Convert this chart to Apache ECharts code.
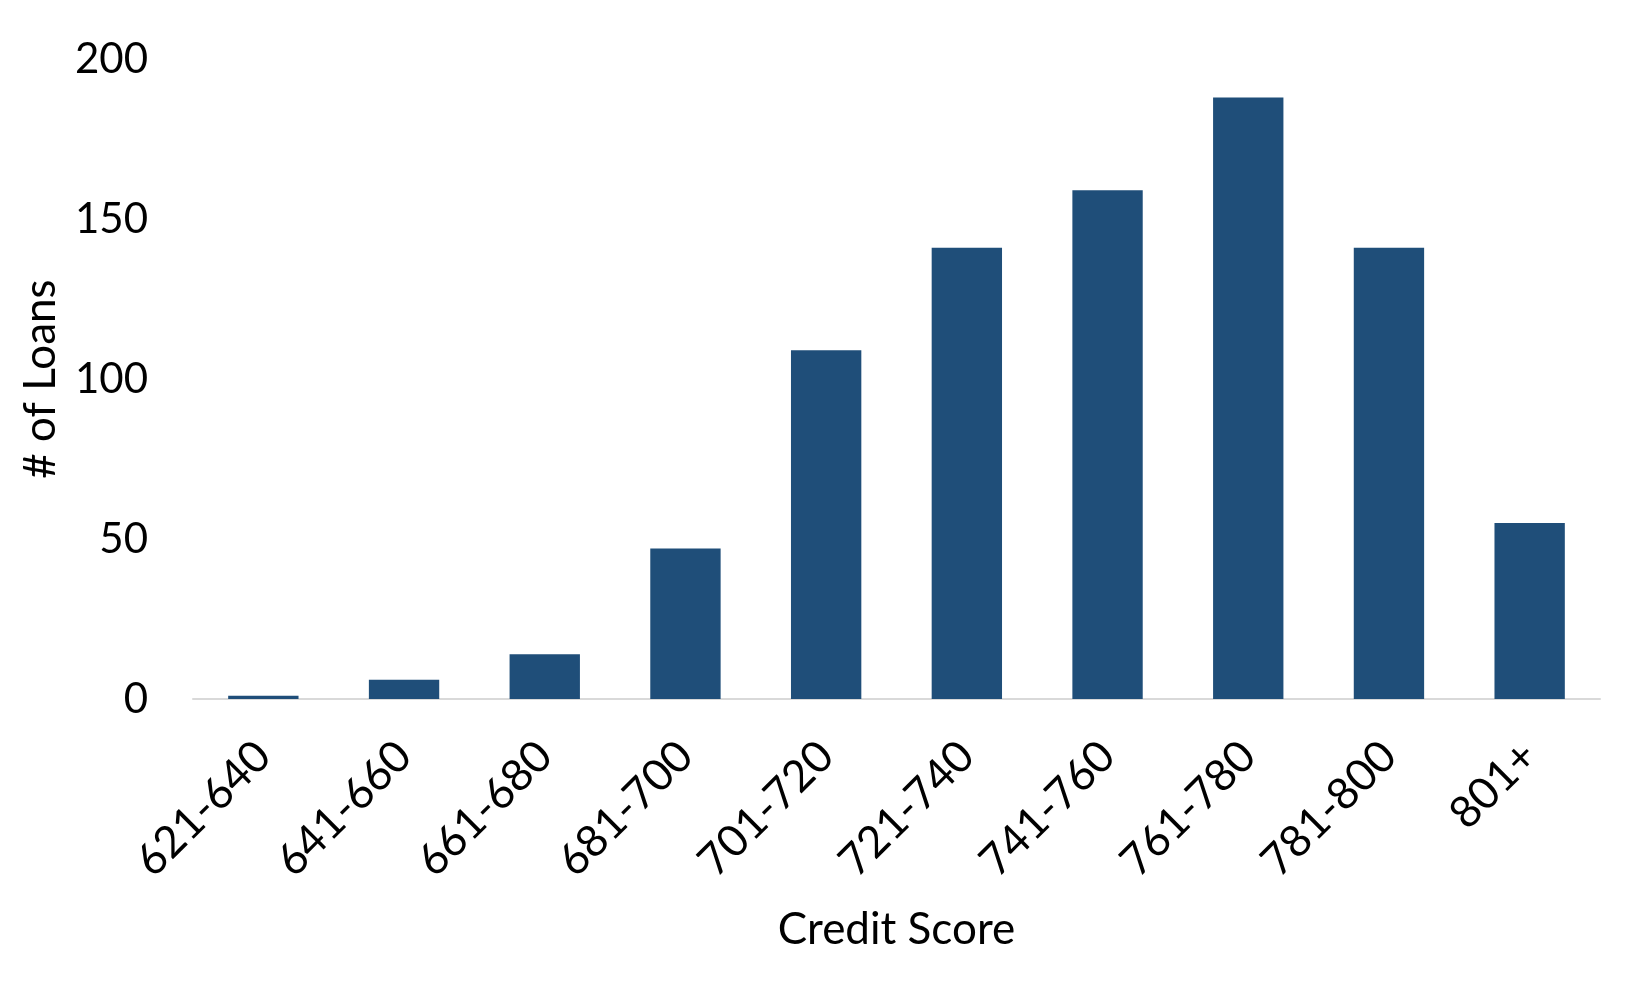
<!DOCTYPE html>
<html>
<head>
<meta charset="utf-8">
<script src="https://cdn.jsdelivr.net/npm/echarts@6/dist/echarts.min.js"></script>
<style>
html,body{margin:0;padding:0;background:#fff;}
#chart{width:1651px;height:990px;}
</style>
</head>
<body>
<div id="chart"></div>
<script>
const categories = ['621-640','641-660','661-680','681-700','701-720','721-740','741-760','761-780','781-800','801+'];
const loans = [1, 6, 14, 47, 109, 141, 159, 188, 141, 55];
const yTicks = [0, 50, 100, 150, 200];

const FONT = 'Lato';
const chart = echarts.init(document.getElementById('chart'));
chart.setOption({
  animation: false,
  backgroundColor: '#ffffff',
  grid: { left: 193, right: 51, top: 59, bottom: 291, containLabel: false },
  xAxis: {
    type: 'category',
    data: categories,
    name: 'Credit Score',
    nameLocation: 'middle',
    nameGap: 209,
    nameTextStyle: { fontFamily: FONT, fontSize: 44, color: '#000' },
    axisLine: { show: true, lineStyle: { color: '#D9D9D9', width: 2 } },
    axisTick: { show: false },
    axisLabel: { rotate: 45, margin: 50, fontFamily: FONT, fontSize: 44, color: '#000', interval: 0 }
  },
  yAxis: {
    type: 'value',
    min: yTicks[0],
    max: yTicks[yTicks.length - 1],
    interval: 50,
    name: '# of Loans',
    nameLocation: 'middle',
    nameRotate: 90,
    nameGap: 130,
    nameTextStyle: { fontFamily: FONT, fontSize: 44, color: '#000' },
    axisLine: { show: false },
    axisTick: { show: false },
    splitLine: { show: false },
    axisLabel: { margin: 45, fontFamily: FONT, fontSize: 42, color: '#000' }
  },
  series: [{
    type: 'bar',
    data: loans,
    barWidth: '50%',
    itemStyle: { color: '#1F4E79' }
  }]
});
</script>
</body>
</html>
